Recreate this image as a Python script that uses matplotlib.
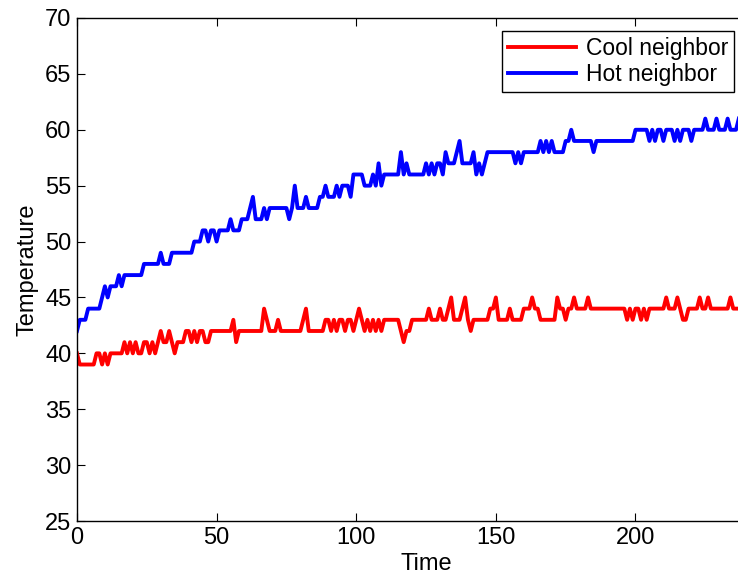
import numpy as np
import matplotlib.pyplot as plt

plt.rcParams['font.family'] = ['Liberation Sans', 'DejaVu Sans']

# Temperature readings, one per time step (t = 0 .. 237)
cool_neighbor = [
    40, 39, 39, 39, 39, 39, 39, 40, 40, 39, 40, 39, 40, 40, 40, 40, 40, 41, 40, 41,
    40, 41, 40, 40, 41, 41, 40, 41, 40, 41, 42, 41, 41, 42, 41, 40, 41, 41, 41, 42,
    42, 41, 42, 41, 42, 42, 41, 41, 42, 42, 42, 42, 42, 42, 42, 42, 43, 41, 42, 42,
    42, 42, 42, 42, 42, 42, 42, 44, 43, 42, 42, 42, 43, 42, 42, 42, 42, 42, 42, 42,
    42, 43, 44, 42, 42, 42, 42, 42, 42, 43, 43, 42, 43, 42, 43, 43, 42, 43, 43, 42,
    43, 44, 43, 42, 43, 42, 43, 42, 43, 42, 43, 43, 43, 43, 43, 43, 42, 41, 42, 42,
    43, 43, 43, 43, 43, 43, 44, 43, 43, 43, 44, 43, 43, 44, 45, 43, 43, 43, 44, 45,
    43, 42, 43, 43, 43, 43, 43, 43, 44, 44, 45, 43, 43, 43, 43, 44, 43, 43, 43, 43,
    44, 44, 44, 45, 44, 44, 43, 43, 43, 43, 43, 43, 45, 44, 44, 43, 44, 44, 45, 44,
    44, 44, 44, 45, 44, 44, 44, 44, 44, 44, 44, 44, 44, 44, 44, 44, 44, 43, 44, 43,
    44, 44, 43, 44, 43, 44, 44, 44, 44, 44, 44, 45, 44, 44, 44, 45, 44, 43, 43, 44,
    44, 44, 44, 45, 44, 44, 45, 44, 44, 44, 44, 44, 44, 44, 45, 44, 44, 44,
]
hot_neighbor = [
    42, 43, 43, 43, 44, 44, 44, 44, 44, 45, 46, 45, 46, 46, 46, 47, 46, 47, 47, 47,
    47, 47, 47, 47, 48, 48, 48, 48, 48, 48, 49, 48, 48, 48, 49, 49, 49, 49, 49, 49,
    49, 49, 50, 50, 50, 51, 51, 50, 51, 51, 50, 51, 51, 51, 51, 52, 51, 51, 51, 52,
    52, 52, 53, 54, 52, 52, 52, 53, 52, 53, 53, 53, 53, 53, 53, 53, 52, 53, 55, 53,
    53, 53, 54, 53, 53, 53, 53, 54, 54, 55, 54, 54, 54, 55, 54, 55, 55, 55, 54, 56,
    56, 56, 56, 55, 55, 55, 56, 55, 57, 55, 56, 56, 56, 56, 56, 56, 58, 56, 57, 56,
    56, 56, 56, 56, 56, 57, 56, 57, 56, 57, 57, 56, 58, 57, 57, 57, 58, 59, 57, 57,
    57, 57, 58, 56, 57, 56, 57, 58, 58, 58, 58, 58, 58, 58, 58, 58, 58, 57, 58, 57,
    58, 58, 58, 58, 58, 58, 59, 58, 59, 58, 59, 58, 58, 58, 58, 59, 59, 60, 59, 59,
    59, 59, 59, 59, 59, 58, 59, 59, 59, 59, 59, 59, 59, 59, 59, 59, 59, 59, 59, 59,
    60, 60, 60, 60, 60, 59, 60, 59, 60, 60, 59, 60, 60, 60, 59, 60, 59, 60, 60, 60,
    59, 60, 60, 60, 60, 61, 60, 60, 60, 61, 60, 60, 60, 61, 60, 60, 60, 61,
]
time = np.arange(len(cool_neighbor))

fig = plt.figure(figsize=(7.38, 5.75), dpi=100)
ax = fig.add_axes([0.1043, 0.0939, 0.946, 0.8748])

ax.plot(time, cool_neighbor, color='#ff0000', linewidth=2.8, label='Cool neighbor')
ax.plot(time, hot_neighbor, color='#0000ff', linewidth=2.8, label='Hot neighbor')

ax.set_xlim(0, 250)
ax.set_ylim(25, 70)
ax.set_xticks([0, 50, 100, 150, 200])
ax.set_yticks(range(25, 71, 5))
ax.tick_params(direction='in', top=True, right=False, labelsize=17, length=6, width=0.8, pad=4)
for s in ax.spines.values():
    s.set_linewidth(1.0)

ax.set_xlabel('Time', fontsize=17, labelpad=3)
ax.set_ylabel('Temperature', fontsize=17, labelpad=5)

leg = ax.legend(loc='upper left', bbox_to_anchor=(502 / 738, 1 - 31 / 575),
                bbox_transform=fig.transFigure, fontsize=16.5, fancybox=False,
                edgecolor='black', framealpha=1, handlelength=3.0, borderpad=0.25,
                labelspacing=0.15, handletextpad=0.4, borderaxespad=0)
leg.get_frame().set_linewidth(1.0)

fig.savefig('out.png', dpi=100)
